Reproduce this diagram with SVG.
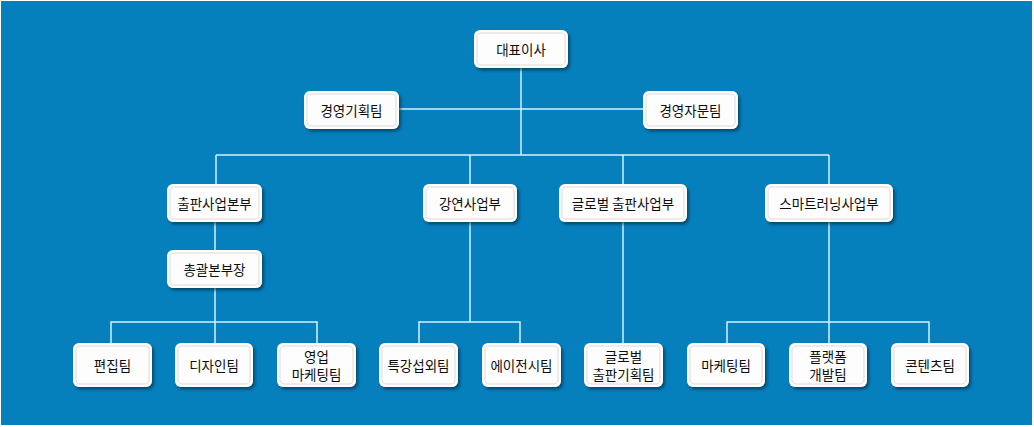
<svg xmlns="http://www.w3.org/2000/svg" width="1034" height="427" viewBox="0 0 1034 427">
<defs>
<filter id="sh" x="-20%" y="-20%" width="150%" height="160%">
<feDropShadow dx="2" dy="2.5" stdDeviation="1.6" flood-color="#00253a" flood-opacity="0.6"/>
</filter>
</defs>
<style>
.bx{fill:#ffffff;filter:url(#sh)}
.in{fill:#fdfdfd;stroke:#e6e6e6;stroke-width:1.5}
.t{font-family:"Noto Sans CJK KR","Noto Sans",sans-serif;font-size:13.5px;font-weight:400;fill:#0d0d0d;text-anchor:middle}
.ln{stroke:#d2f2ff;stroke-width:1.5;fill:none}
</style>
<rect x="0" y="0" width="1034" height="427" fill="#ffffff"/>
<rect x="1" y="1" width="1031" height="424" fill="#0580bd"/>
<g id="connectors">
<path class="ln" d="M521 68V155M399 109H643M216 155H829M216 155V184M470 155V184M623 155V184M829 155V184"/>
<path class="ln" d="M215 222V250M215 288V343M111 343V322H317V343"/>
<path class="ln" d="M470 222V322M419 343V322H520V343"/>
<path class="ln" d="M623 222V343"/>
<path class="ln" d="M829 222V343M727 343V322H929V343"/>
</g>
<g id="n-ceo"><rect class="bx" x="474" y="30" width="94" height="38" rx="6"/><rect class="in" x="477" y="33" width="88" height="32" rx="4"/><text class="t" x="521" y="55">대표이사</text></g>
<g id="n-plan"><rect class="bx" x="304" y="91" width="95" height="38" rx="6"/><rect class="in" x="307" y="94" width="89" height="32" rx="4"/><text class="t" x="351.5" y="116">경영기획팀</text></g>
<g id="n-advice"><rect class="bx" x="643" y="91" width="95" height="38" rx="6"/><rect class="in" x="646" y="94" width="89" height="32" rx="4"/><text class="t" x="690.5" y="116">경영자문팀</text></g>
<g id="n-pub"><rect class="bx" x="167" y="184" width="95" height="38" rx="6"/><rect class="in" x="170" y="187" width="89" height="32" rx="4"/><text class="t" x="214.5" y="209">출판사업본부</text></g>
<g id="n-gm"><rect class="bx" x="167" y="250" width="95" height="38" rx="6"/><rect class="in" x="170" y="253" width="89" height="32" rx="4"/><text class="t" x="214.5" y="275">총괄본부장</text></g>
<g id="n-lecture"><rect class="bx" x="423" y="184" width="94" height="38" rx="6"/><rect class="in" x="426" y="187" width="88" height="32" rx="4"/><text class="t" x="470" y="209">강연사업부</text></g>
<g id="n-global"><rect class="bx" x="559" y="184" width="128" height="38" rx="6"/><rect class="in" x="562" y="187" width="122" height="32" rx="4"/><text class="t" x="623" y="209">글로벌 출판사업부</text></g>
<g id="n-smart"><rect class="bx" x="765" y="184" width="128" height="38" rx="6"/><rect class="in" x="768" y="187" width="122" height="32" rx="4"/><text class="t" x="829" y="209">스마트러닝사업부</text></g>
<g id="n-edit"><rect class="bx" x="73" y="343" width="79" height="44" rx="6"/><rect class="in" x="76" y="346" width="73" height="38" rx="4"/><text class="t" x="112.5" y="371">편집팀</text></g>
<g id="n-design"><rect class="bx" x="175" y="343" width="78" height="44" rx="6"/><rect class="in" x="178" y="346" width="72" height="38" rx="4"/><text class="t" x="214" y="371">디자인팀</text></g>
<g id="n-sales"><rect class="bx" x="277" y="343" width="79" height="44" rx="6"/><rect class="in" x="280" y="346" width="73" height="38" rx="4"/><text class="t" x="316.5" y="362">영업</text><text class="t" x="316.5" y="380">마케팅팀</text></g>
<g id="n-special"><rect class="bx" x="379" y="343" width="79" height="44" rx="6"/><rect class="in" x="382" y="346" width="73" height="38" rx="4"/><text class="t" x="418.5" y="371">특강섭외팀</text></g>
<g id="n-agency"><rect class="bx" x="482" y="343" width="79" height="44" rx="6"/><rect class="in" x="485" y="346" width="73" height="38" rx="4"/><text class="t" x="521.5" y="371">에이전시팀</text></g>
<g id="n-gplan"><rect class="bx" x="584" y="343" width="79" height="44" rx="6"/><rect class="in" x="587" y="346" width="73" height="38" rx="4"/><text class="t" x="623.5" y="362">글로벌</text><text class="t" x="623.5" y="380">출판기획팀</text></g>
<g id="n-mkt"><rect class="bx" x="687" y="343" width="78" height="44" rx="6"/><rect class="in" x="690" y="346" width="72" height="38" rx="4"/><text class="t" x="726" y="371">마케팅팀</text></g>
<g id="n-platform"><rect class="bx" x="789" y="343" width="78" height="44" rx="6"/><rect class="in" x="792" y="346" width="72" height="38" rx="4"/><text class="t" x="828" y="362">플랫폼</text><text class="t" x="828" y="380">개발팀</text></g>
<g id="n-content"><rect class="bx" x="891" y="343" width="78" height="44" rx="6"/><rect class="in" x="894" y="346" width="72" height="38" rx="4"/><text class="t" x="930" y="371">콘텐츠팀</text></g>
</svg>
